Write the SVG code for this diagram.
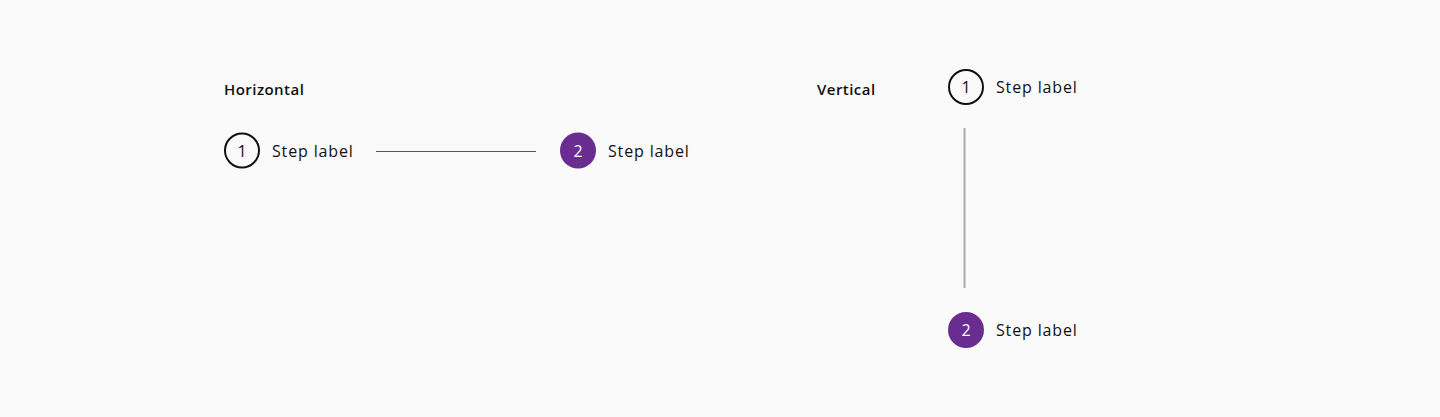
<svg xmlns="http://www.w3.org/2000/svg" width="1440" height="417" viewBox="0 0 1440 417">
<style>
.bg{fill:#fafafa}
.title{font-family:"Open Sans","Noto Sans",sans-serif;font-size:15px;font-weight:600;fill:#111;letter-spacing:0.45px}
.lbl{font-family:"Open Sans","Noto Sans",sans-serif;font-size:16px;fill:#111;letter-spacing:0.85px}
.num{font-family:"Open Sans","Noto Sans",sans-serif;font-size:16px;text-anchor:middle}
.c-out{fill:none;stroke:#111;stroke-width:2}
.c-act{fill:#6b2c91}
.n-out{fill:#111}
.n-act{fill:#fff}
</style>
<rect class="bg" x="0" y="0" width="1440" height="417"/>
<text class="title" x="224" y="95">Horizontal</text>
<text class="title" x="817" y="95">Vertical</text>
<g id="connectors">
<line x1="376" y1="151.5" x2="536" y2="151.5" stroke="#555" stroke-width="1"/>
<line x1="964.5" y1="128" x2="964.5" y2="288" stroke="#aaa" stroke-width="2"/>
</g>
<g id="h-step1">
<circle class="c-out" cx="242" cy="150.5" r="17"/>
<text class="num n-out" x="242" y="156.5">1</text>
<text class="lbl" x="272" y="156.5">Step label</text>
</g>
<g id="h-step2">
<circle class="c-act" cx="578" cy="150.5" r="18"/>
<text class="num n-act" x="578" y="156.5">2</text>
<text class="lbl" x="608" y="156.5">Step label</text>
</g>
<g id="v-step1">
<circle class="c-out" cx="966" cy="87" r="17"/>
<text class="num n-out" x="966" y="93">1</text>
<text class="lbl" x="996" y="92.5">Step label</text>
</g>
<g id="v-step2">
<circle class="c-act" cx="966" cy="330" r="18"/>
<text class="num n-act" x="966" y="336">2</text>
<text class="lbl" x="996" y="335.5">Step label</text>
</g>
</svg>
